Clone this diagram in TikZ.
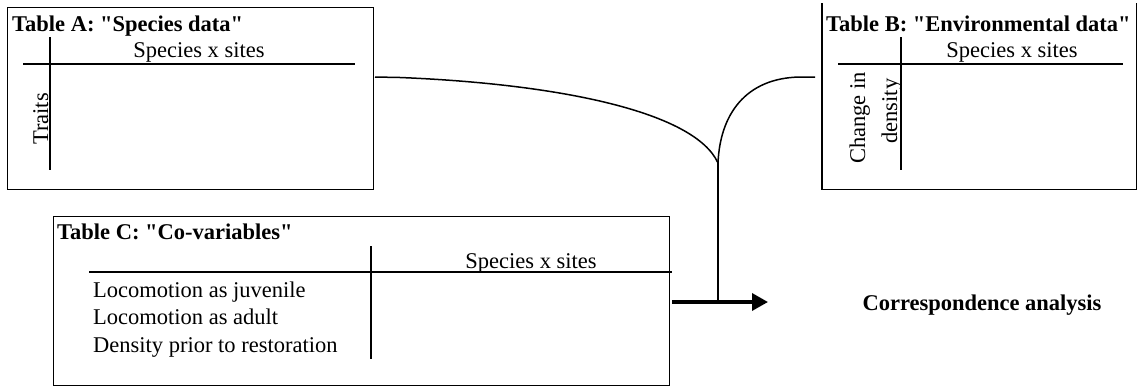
\documentclass[tikz,border=0pt]{standalone}
\usepackage{fontspec}
\setmainfont{Liberation Serif}[Ligatures=TeXOff]
\usetikzlibrary{arrows.meta}
\begin{document}
\begin{tikzpicture}[x=1pt,y=-1pt,
  tbox/.style={draw,line width=1.2pt,inner sep=0pt,anchor=north west},
  txt/.style={font=\fontsize{22.5}{27}\selectfont,inner sep=0pt},
  ttl/.style={font=\fontsize{22.5}{27}\selectfont\bfseries,inner sep=0pt,anchor=base west},
  rule/.style={line width=1.2pt},
  link/.style={line width=1.5pt},
  bigarrow/.style={line width=3.5pt,-{Triangle[length=16pt,width=17pt]}}
]
\useasboundingbox (0,0) rectangle (1141,386);

% Table A
\node[tbox,minimum width=366pt,minimum height=182pt] (A) at (7,7) {};
\node[ttl] (Atitle) at (12,31) {Table A: "Species data"};
\draw[rule] (23,64) -- (355,64);
\draw[rule] (50,37) -- (50,170);
\node[txt,anchor=base] (Acol) at (199,57) {Species x sites};
\node[txt,anchor=base,rotate=90] (Arow) at (48,119) {Traits};

% Table B (no top edge)
\node[inner sep=0pt,anchor=north west,minimum width=314pt,minimum height=186pt] (B) at (822,3) {};
\draw[rule] (B.north west) -- (B.south west) -- (B.south east) -- (B.north east);
\node[ttl] (Btitle) at (826,31) {Table B: "Environmental data"};
\draw[rule] (838,64) -- (1123,64);
\draw[rule] (901,37) -- (901,170);
\node[txt,anchor=base] (Bcol) at (1012,57) {Species x sites};
\node[txt,anchor=base,rotate=90] (Brow1) at (865,118) {Change in};
\node[txt,anchor=base,rotate=90] (Brow2) at (897,111) {density};

% Table C
\node[tbox,minimum width=616pt,minimum height=169pt] (C) at (53,216) {};
\node[ttl] (Ctitle) at (57,239) {Table C: "Co-variables"};
\draw[rule] (89,272) -- (672,272);
\draw[rule] (371,246) -- (371,359);
\node[txt,anchor=base] (Ccol) at (531,268) {Species x sites};
\node[txt,anchor=base west] (Cr1) at (93,297) {Locomotion as juvenile};
\node[txt,anchor=base west] (Cr2) at (93,324) {Locomotion as adult};
\node[txt,anchor=base west] (Cr3) at (93,352) {Density prior to restoration};

% Result
\node[ttl,anchor=base] (CA) at (982,310) {Correspondence analysis};

% Connectors
\coordinate (aout) at (375,77);
\coordinate (bout) at (815,77);
\coordinate (join) at (718,163);
\coordinate (jbot) at (718,302);
\coordinate (arrS) at (672,302);
\coordinate (arrE) at (768,302);
\draw[link] (aout) -- (400,77.5) .. controls (560,84) and (695,112) .. (join);
\draw[link] (bout) -- (800,77) .. controls (745,78) and (720,115) .. (join);
\draw[link] (join) -- (jbot);
\draw[bigarrow] (arrS) -- (arrE);
\end{tikzpicture}
\end{document}
